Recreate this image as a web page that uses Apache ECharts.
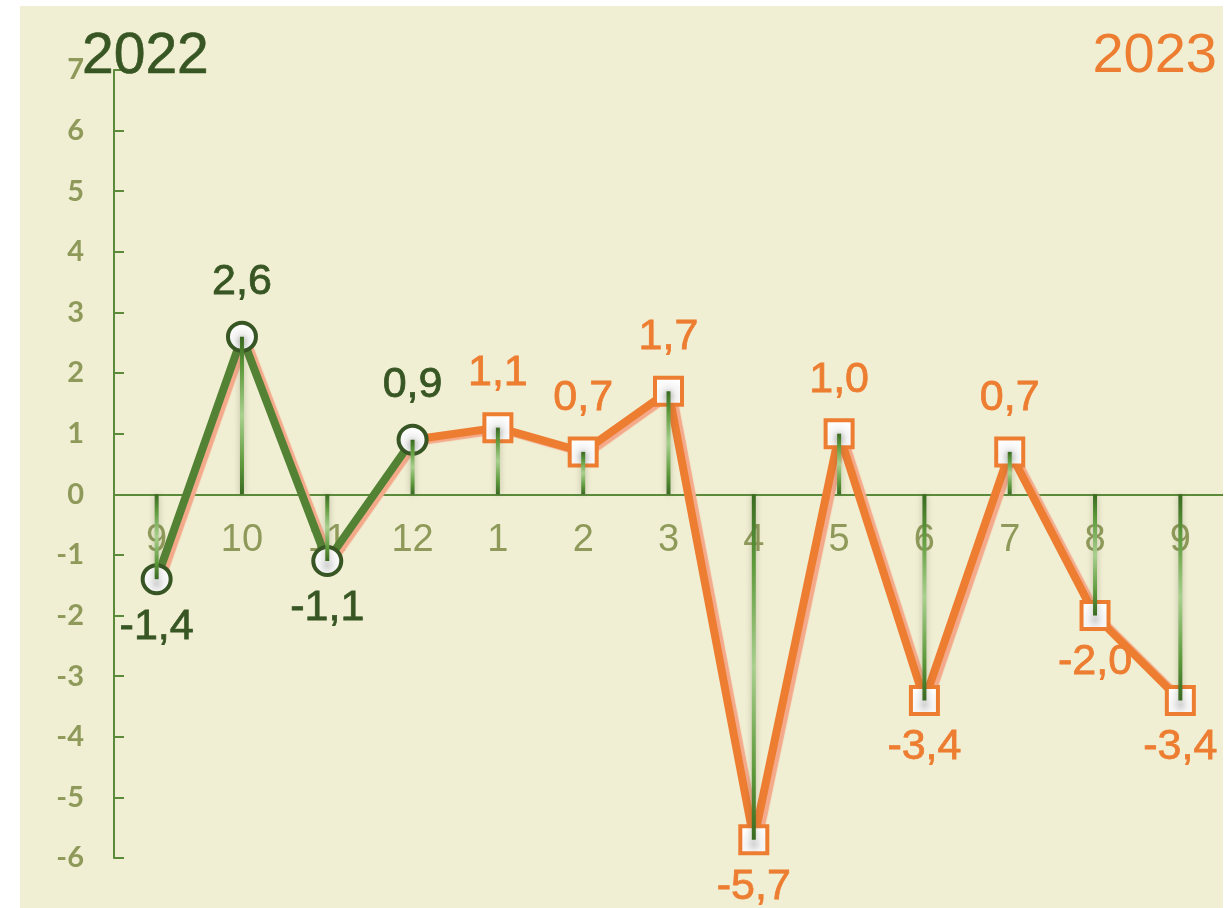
<!DOCTYPE html>
<html>
<head>
<meta charset="utf-8">
<script src="https://cdn.jsdelivr.net/npm/echarts@6/dist/echarts.min.js"></script>
<style>
html,body{margin:0;padding:0;background:#ffffff;overflow:hidden;}
#wrap{position:relative;width:1231px;height:908px;background:#ffffff;}
#chart{position:absolute;left:20px;top:6px;width:1203px;height:902px;}
</style>
</head>
<body>
<div id="wrap"><div id="chart"></div></div>
<script>
// Data
const categories = ['9','10','11','12','1','2','3','4','5','6','7','8','9'];
const values2022 = [-1.4, 2.6, -1.1, 0.9];
const values2023 = [1.1, 0.7, 1.7, -5.7, 1.0, -3.4, 0.7, -2.0, -3.4];
const yTicks = { min: -6, max: 7, step: 1 };
const title2022 = '2022';
const title2023 = '2023';

const fmt = v => v.toFixed(1).replace('.', ',');
const n = categories.length;
const green = '#375623';
const greenLine = '#548235';
const orange = '#ED7D31';
const olive = '#8F9A5A';

const gridTop = 64, gridBottom = 50, chartH = 902;
const plotH = chartH - gridTop - gridBottom;
const zeroFromBottom = plotH * (0 - yTicks.min) / (yTicks.max - yTicks.min);

const markerFill = {
  type: 'radial', x: 0.5, y: 0.65, r: 0.55,
  colorStops: [{offset: 0, color: '#d4d4d4'}, {offset: 0.45, color: '#f3f3f3'}, {offset: 1, color: '#ffffff'}]
};

function labelFor(v, color) {
  return {
    show: true,
    position: v >= 0 ? 'top' : 'bottom',
    distance: v >= 0 ? 17 : 10,
    color: color,
    textBorderColor: color,
    textBorderWidth: 0.8,
    fontFamily: 'Liberation Sans, Arial, sans-serif',
    fontSize: 43,
    formatter: () => fmt(v)
  };
}

const data2022 = [];
for (let i = 0; i < n; i++) {
  if (i < values2022.length) {
    const v = values2022[i];
    data2022.push({ value: v, label: labelFor(v, green) });
  } else data2022.push(null);
}
const data2023 = [];
const start2023 = values2022.length;
for (let i = 0; i < n; i++) {
  if (i === start2023 - 1) {
    data2023.push({ value: values2022[i], symbol: 'none', label: { show: false } });
  } else if (i >= start2023) {
    const v = values2023[i - start2023];
    data2023.push({ value: v, label: labelFor(v, orange) });
  } else data2023.push(null);
}
const allValues = values2022.concat(values2023);

const chart = echarts.init(document.getElementById('chart'), null, { renderer: 'canvas' });
chart.setOption({
  backgroundColor: '#F0EFD3',
  animation: false,
  title: [
    { text: title2022, left: 57, top: 18, textStyle: { color: green, fontSize: 57, fontWeight: 'normal', textBorderColor: green, textBorderWidth: 0.6, fontFamily: 'Liberation Sans, Arial, sans-serif' } },
    { text: title2023, right: 1, top: 18, textStyle: { color: orange, fontSize: 56, fontWeight: 'normal', fontFamily: 'Liberation Sans, Arial, sans-serif' } }
  ],
  grid: { left: 94, right: 0, top: gridTop, bottom: gridBottom, containLabel: false, outerBoundsMode: 'none' },
  xAxis: {
    type: 'category',
    data: categories,
    boundaryGap: true,
    position: 'bottom',
    offset: -zeroFromBottom,
    axisLine: { onZero: false, lineStyle: { color: '#5B8A3A', width: 2 } },
    axisTick: { show: false },
    axisLabel: { color: olive, fontSize: 38, margin: 27, fontFamily: 'Liberation Sans, Arial, sans-serif', interval: 0 },
    splitLine: { show: false }
  },
  yAxis: {
    type: 'value',
    min: yTicks.min, max: yTicks.max, interval: yTicks.step,
    axisLine: { show: true, lineStyle: { color: '#5B8A3A', width: 2 } },
    axisTick: { show: true, inside: true, length: 10, lineStyle: { color: '#5B8A3A', width: 2 } },
    axisLabel: { color: olive, fontSize: 29, fontWeight: 'bold', margin: 30, fontFamily: 'Lato, Open Sans, sans-serif' },
    splitLine: { show: false }
  },
  series: [
    {
      name: title2023, type: 'line', data: data2023, z: 3,
      symbol: 'rect', symbolSize: 27,
      lineStyle: { color: orange, width: 8, shadowColor: '#F4A98A', shadowOffsetX: 4, shadowOffsetY: 2, shadowBlur: 1 },
      itemStyle: { color: markerFill, borderColor: orange, borderWidth: 4 },
      connectNulls: false
    },
    {
      name: title2022, type: 'line', data: data2022, z: 4,
      symbol: 'circle', symbolSize: 28,
      lineStyle: { color: greenLine, width: 8, shadowColor: '#F4A98A', shadowOffsetX: 4, shadowOffsetY: 2, shadowBlur: 1 },
      itemStyle: { color: markerFill, borderColor: green, borderWidth: 4 },
      connectNulls: false
    },
    {
      name: 'drop', type: 'bar', data: allValues, z: 6, barWidth: 4, silent: true,
      itemStyle: {
        color: {
          type: 'linear', x: 0, y: 0, x2: 0, y2: 1,
          colorStops: [
            {offset: 0, color: '#3A6A22'}, {offset: 0.2, color: '#5E9A3C'},
            {offset: 0.5, color: '#A9D08E'}, {offset: 0.8, color: '#5E9A3C'}, {offset: 1, color: '#3A6A22'}
          ]
        },
        shadowColor: 'rgba(80,80,60,0.35)', shadowBlur: 6
      },
      label: { show: false }
    }
  ]
});
</script>
</body>
</html>
